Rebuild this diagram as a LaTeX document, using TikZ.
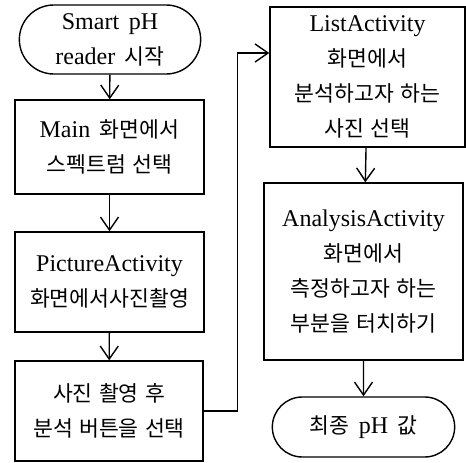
\documentclass[tikz,border=0pt]{standalone}
\usepackage{fontspec}
\setmainfont{Liberation Serif}[WordSpace=1.6]
\newfontfamily\kr{Noto Sans CJK KR}[Scale=0.9,WordSpace=1.3]
\usepackage{tikz}
\usetikzlibrary{arrows.meta, positioning, shapes.misc}

\tikzset{
  box/.style={draw, line width=1.4pt, rectangle, align=center,
    font=\fontsize{24pt}{35pt}\selectfont},
  term/.style={draw, line width=1.4pt, rounded rectangle, rounded rectangle arc length=180,
    align=center, font=\fontsize{24pt}{35pt}\selectfont},
  flow/.style={line width=1.4pt, -{Straight Barb[length=13pt, width=18pt, line width=1.4pt]}}
}

\begin{document}
\begin{tikzpicture}[x=1pt, y=-1pt]
  \useasboundingbox (0,0) rectangle (466,463);
  % left column
  \node[term, minimum width=188pt, minimum height=69pt] (start) at (110,39.5) {Smart pH\\reader {\kr 시작}};
  \node[box, minimum width=189pt, minimum height=94pt] (main) at (109.5,147) {Main {\kr 화면에서}\\{\kr 스펙트럼 선택}};
  \node[box, minimum width=189pt, minimum height=100pt] (picture) at (109.5,282) {PictureActivity\\{\kr 화면에서사진촬영}};
  \node[box, minimum width=188pt, minimum height=100pt] (capture) at (109,411) {{\kr 사진 촬영 후}\\{\kr 분석 버튼을 선택}};
  % right column
  \node[box, minimum width=195pt, minimum height=140pt] (list) at (367.5,77) {ListActivity\\{\kr 화면에서}\\{\kr 분석하고자 하는}\\{\kr 사진 선택}};
  \node[box, minimum width=199pt, minimum height=177pt] (analysis) at (363.5,271.5) {AnalysisActivity\\{\kr 화면에서}\\{\kr 측정하고자 하는}\\{\kr 부분을 터치하기}};
  \node[term, minimum width=189pt, minimum height=60pt] (final) at (363.5,427) {{\kr 최종} pH {\kr 값}};

  \draw[flow] (start) -- (main);
  \draw[flow] (main) -- (picture);
  \draw[flow] (picture) -- (capture);
  \draw[flow] (capture.east) -- ++(34,0) |- ([yshift=24pt]list.west);
  \draw[flow] (list) -- (analysis);
  \draw[flow] (analysis) -- (final);
\end{tikzpicture}
\end{document}
